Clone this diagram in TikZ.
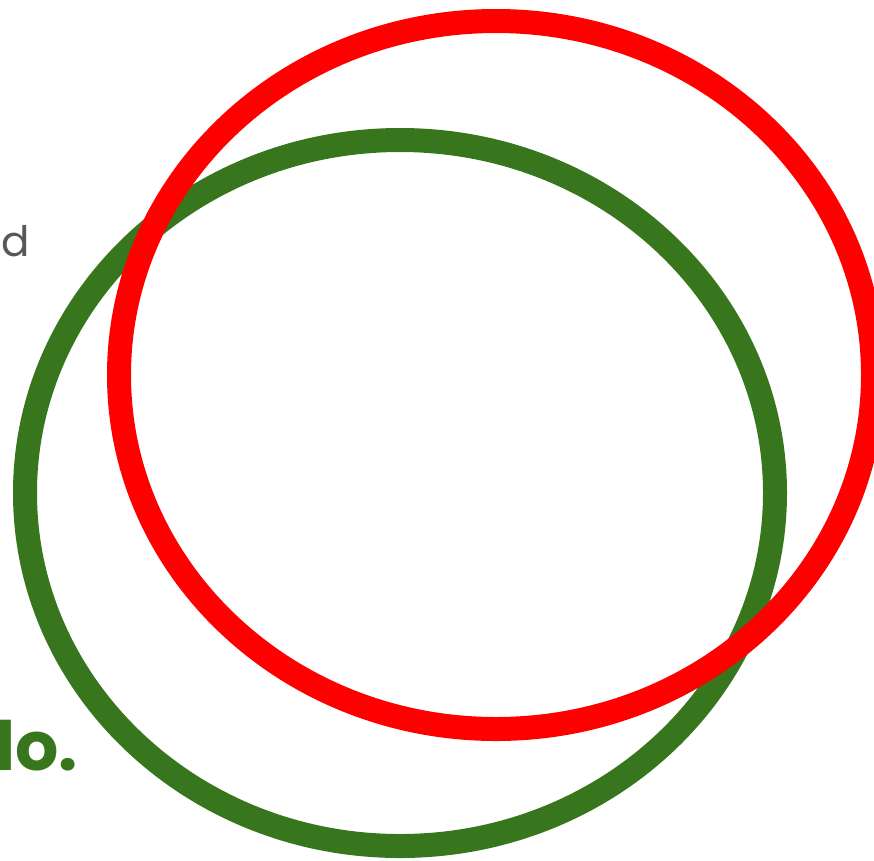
\documentclass[tikz,border=0pt]{standalone}
\usepackage{fontspec}
\setmainfont{Poppins}
\definecolor{ringgreen}{HTML}{38761D}
\definecolor{ringred}{HTML}{FF0000}
\definecolor{textgray}{HTML}{595959}

\begin{document}
\begin{tikzpicture}[x=1pt, y=-1pt,
    ring/.style={line width=24pt},
    txt/.style={inner sep=0pt, anchor=base west}]
  \useasboundingbox (0,0) rectangle (874,860);
  % rings, green below red
  \draw[ring, ringgreen] (400,493) ellipse [x radius=375, y radius=353];
  \draw[ring, ringred] (496,375) ellipse [x radius=377, y radius=354];
  % cut-off texts at the left edge
  \node[txt, text=textgray, font=\fontsize{42}{50}\selectfont] (side) at (1,256) {d};
  \node[txt, text=ringgreen, font=\fontsize{68}{82}\selectfont\bfseries] (main) at (-5,770) {lo.};
\end{tikzpicture}
\end{document}
